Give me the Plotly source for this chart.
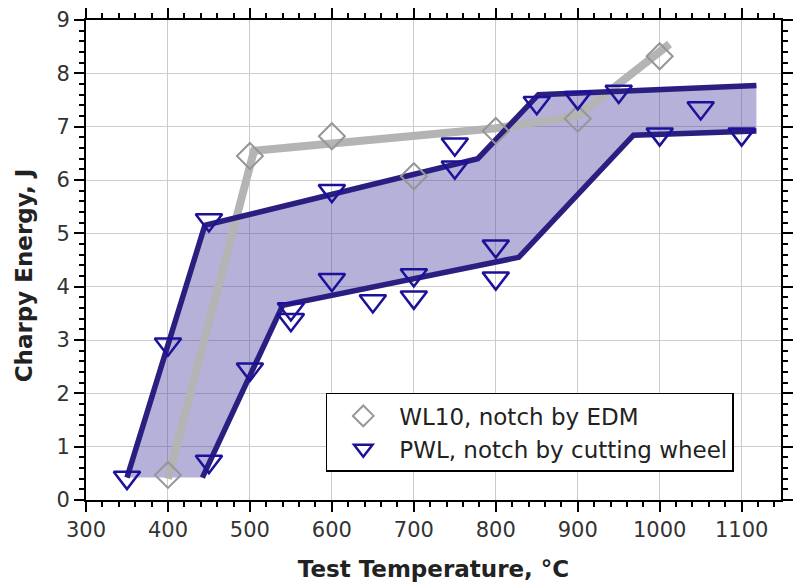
import plotly.graph_objects as go

# WL10 data (diamonds)
wl10_temp = [400, 500, 600, 700, 800, 900, 1000]
wl10_energy = [0.47, 6.45, 6.82, 6.07, 6.92, 7.15, 8.32]

# WL10 trend line (gray)
wl10_fit_temp = [400, 460, 505, 800, 900, 1012]
wl10_fit_energy = [0.4, 4.0, 6.55, 6.97, 7.2, 8.55]

# PWL data (down triangles)
pwl_temp = [350, 400, 450, 450, 500, 550, 550, 600, 600, 650, 700, 700,
            750, 750, 800, 800, 850, 900, 950, 1000, 1050, 1100]
pwl_energy = [0.42, 2.92, 0.72, 5.25, 2.45, 3.58, 3.38, 5.8, 4.13, 3.73, 4.22, 3.8,
              6.67, 6.24, 4.76, 4.16, 7.45, 7.54, 7.66, 6.86, 7.35, 6.86]

# PWL band (upper and lower bounds)
upper_temp = [350, 445, 778, 852, 1118]
upper_energy = [0.42, 5.15, 6.4, 7.6, 7.77]
lower_temp = [442, 540, 828, 968, 1118]
lower_energy = [0.42, 3.65, 4.55, 6.84, 6.92]

navy_line = "#2a1f80"
navy_mark = "#1c1299"
gray_line = "rgb(180,180,180)"
gray_mark = "rgb(150,150,150)"
font_fam = "DejaVu Sans, Arial, sans-serif"

fig = go.Figure()

# band fill
fig.add_trace(go.Scatter(
    x=upper_temp + lower_temp[::-1],
    y=upper_energy + lower_energy[::-1],
    fill="toself", fillcolor="rgba(70,60,160,0.4)",
    line=dict(width=0), mode="lines", showlegend=False, hoverinfo="skip"))

# gray fit line
fig.add_trace(go.Scatter(x=wl10_fit_temp, y=wl10_fit_energy, mode="lines",
                         line=dict(color=gray_line, width=8), showlegend=False))

# navy band lines
fig.add_trace(go.Scatter(x=upper_temp, y=upper_energy, mode="lines",
                         line=dict(color=navy_line, width=5.5), showlegend=False))
fig.add_trace(go.Scatter(x=lower_temp, y=lower_energy, mode="lines",
                         line=dict(color=navy_line, width=5.5), showlegend=False))

# markers
fig.add_trace(go.Scatter(x=wl10_temp, y=wl10_energy, mode="markers",
                         name="WL10, notch by EDM",
                         marker=dict(symbol="diamond-open", size=20,
                                     color=gray_mark, line=dict(width=2, color=gray_mark))))
fig.add_trace(go.Scatter(x=pwl_temp, y=pwl_energy, mode="markers",
                         name="PWL, notch by cutting wheel",
                         marker=dict(symbol="triangle-down-open", size=23,
                                     color=navy_mark, line=dict(width=2.5, color=navy_mark))))

axis_common = dict(
    showline=True, linecolor="black", linewidth=2, mirror="allticks",
    ticks="outside", ticklen=10, tickwidth=2, tickcolor="black",
    showgrid=True, gridcolor="rgb(205,205,205)", gridwidth=1,
    zeroline=False,
    tickfont=dict(family=font_fam, size=21, color="#333333"),
)

fig.update_xaxes(**axis_common, range=[300, 1148], tick0=300, dtick=100,
                 minor=dict(ticks="outside", ticklen=5, tickwidth=1.5, tickcolor="black",
                            dtick=20, showgrid=False),
                 title=dict(text="<b>Test Temperature, °C</b>", standoff=20,
                            font=dict(family=font_fam, size=23, color="#222222")))
fig.update_yaxes(**axis_common, range=[0, 9], tick0=0, dtick=1,
                 minor=dict(ticks="outside", ticklen=5, tickwidth=1.5, tickcolor="black",
                            dtick=0.2, showgrid=False))

fig.add_annotation(text="<b>Charpy Energy, J</b>", textangle=-90,
                   xref="paper", yref="paper", x=-0.09, y=0.469,
                   xanchor="center", yanchor="middle", showarrow=False,
                   font=dict(family=font_fam, size=23, color="#222222"))

fig.update_layout(
    width=799, height=587,
    margin=dict(l=86, r=6, t=20, b=87),
    plot_bgcolor="white", paper_bgcolor="white",
    legend=dict(x=0.345, y=0.223, xanchor="left", yanchor="top",
                bgcolor="white", bordercolor="black", borderwidth=1.5,
                font=dict(family=font_fam, size=23, color="#222222"),
                tracegroupgap=0, itemwidth=62),
)

fig.write_html("out.html")
